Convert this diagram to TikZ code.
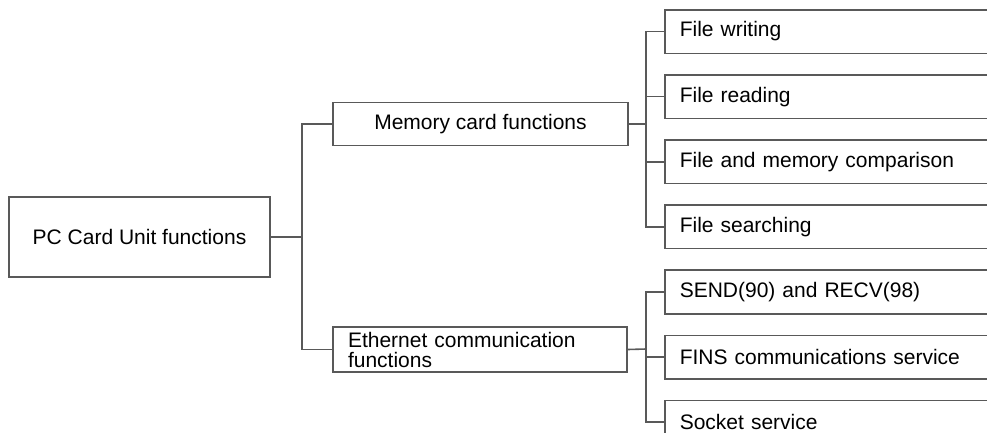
\documentclass[tikz,border=0pt]{standalone}
\usepackage{fontspec}
\setmainfont{Liberation Sans}
\usepackage{tikz}
\usetikzlibrary{positioning}
\tikzstyle{box} = [draw=black!65, line width=1.6pt, inner sep=0pt, font=\fontsize{21}{20}\selectfont]
\tikzstyle{leaf} = [box, minimum height=43.5pt, text width=306pt, inner xsep=15pt, align=left, anchor=north west]
\tikzstyle{line} = [draw=black!65, line width=1.6pt]
\tikzset{leafbelow/.style={below=20pt of #1.south west, anchor=north west}}

\begin{document}
\begin{tikzpicture}[x=1pt, y=-1pt]
  \useasboundingbox (0,0) rectangle (987,432);
  \clip (0,0) rectangle (987,432);

  % Main units
  \node[box, minimum width=261pt, minimum height=80pt] (pcu) at (139.5,237) {PC Card Unit functions};
  \node[box, minimum width=295pt, minimum height=43pt] (mem) at (480.5,124) {Memory card functions};
  \node[box, minimum width=294pt, minimum height=45pt, text width=264pt, inner xsep=15pt, align=left] (eth) at (480,349.5) {Ethernet communication\\functions};

  % Memory card leaves
  \node[leaf] (fwrite) at (664,9) {File writing};
  \node[leaf, leafbelow=fwrite] (fread) {File reading};
  \node[leaf, leafbelow=fread] (fcomp) {File and memory comparison};
  \node[leaf, leafbelow=fcomp] (fsearch) {File searching};

  % Ethernet leaves
  \node[leaf, leafbelow=fsearch] (sendrecv) {SEND(90) and RECV(98)};
  \node[leaf, leafbelow=sendrecv] (fins) {FINS communications service};
  \node[leaf, leafbelow=fins] (socket) {Socket service};

  % Connectors
  \coordinate (j1) at (302,237);
  \coordinate (j2) at (646,124);
  \coordinate (j3) at (646,349);
  \draw[line] (pcu.east) -- (j1);
  \draw[line] (mem.west) -| (j1) |- (eth.west);
  \draw[line] (mem.east) -- (j2);
  \draw[line] (fwrite.west) -| (j2) |- (fsearch.west);
  \draw[line] (j2 |- fread.west) -- (fread.west);
  \draw[line] (j2 |- fcomp.west) -- (fcomp.west);
  \draw[line] (eth.east) -- (j3);
  \draw[line] (sendrecv.west) -| (j3) |- (socket.west);
  \draw[line] (j3 |- fins.west) -- (fins.west);
\end{tikzpicture}
\end{document}
